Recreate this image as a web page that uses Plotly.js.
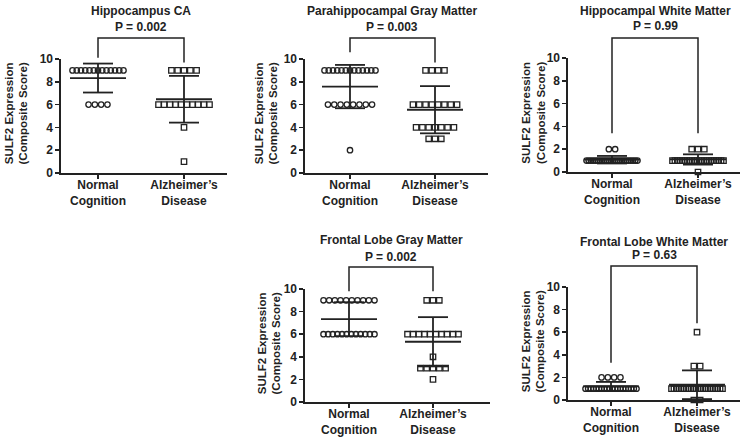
<!DOCTYPE html>
<html><head><meta charset="utf-8">
<script src="https://cdn.plot.ly/plotly-3.0.1.min.js"></script>
<style>html,body{margin:0;padding:0;background:#fff}#chart{width:745px;height:440px}</style>
</head><body><div id="chart"></div>
<script>
// ---------------- DATA ----------------
const categories = ["Normal<br>Cognition", "Alzheimer’s<br>Disease"];
const panelTitles = ["Hippocampus CA", "Parahippocampal Gray Matter", "Hippocampal White Matter", "Frontal Lobe Gray Matter", "Frontal Lobe White Matter"];
const pLabels = ["P = 0.002", "P = 0.003", "P = 0.99", "P = 0.002", "P = 0.63"];
const yTickVals = [0, 2, 4, 6, 8, 10];
const yTitle = "SULF2 Expression<br>(Composite Score)";

const hippoCA_NC = [9,9,9,9,9,9,9,9,9,9,9,9,9, 6,6,6,6];
const hippoCA_AD = [9,9,9,9,9, 6,6,6,6,6,6,6,6,6,6, 4, 1];
const paraGM_NC  = [9,9,9,9,9,9,9,9,9,9,9,9,9, 6,6,6,6,6,6,6,6, 2];
const paraGM_AD  = [9,9,9,9, 6,6,6,6,6,6,6,6, 4,4,4,4,4,4,4, 3,3,3];
const hippoWM_NC = [2,2, 1,1,1,1,1,1,1,1,1,1,1,1,1,1,1,1,1,1,1,1,1,1,1,1];
const hippoWM_AD = [2,2,2, 1,1,1,1,1,1,1,1,1,1,1,1,1,1,1,1,1,1,1,1,1,1, 0];
const frontGM_NC = [9,9,9,9,9,9,9,9,9,9, 6,6,6,6,6,6,6,6,6,6,6,6];
const frontGM_AD = [9,9,9, 6,6,6,6,6,6,6,6,6,6, 4, 3,3,3,3,3, 2];
const frontWM_NC = [2,2,2,2, 1,1,1,1,1,1,1,1,1,1,1,1,1,1,1,1,1,1,1,1];
const frontWM_AD = [6, 3,3, 1,1,1,1,1,1,1,1,1,1,1,1,1,1,1,1,1,1,1,1,1,1, 0,0];

const meanNC = [8.33, 7.58, 1.08, 7.33, 1.20];
const sdNC   = [1.27, 1.90, 0.33, 1.50, 0.40];
const meanAD = [6.47, 5.55, 1.10, 5.33, 1.35];
const sdAD   = [2.05, 2.07, 0.45, 2.18, 1.27];

const groupsNC = [hippoCA_NC, paraGM_NC, hippoWM_NC, frontGM_NC, frontWM_NC];
const groupsAD = [hippoCA_AD, paraGM_AD, hippoWM_AD, frontGM_AD, frontWM_AD];

// ---------------- LAYOUT GEOMETRY (pixels) ----------------
const W = 745, H = 440;
const geom = [
  {x:[61,227],  y:[59,173],  cat:[98,184],  titleY:11,  pY:27,  barY:38,  legs:[10.1,9.7], yt:16.5},
  {x:[305,488], y:[59,173],  cat:[350,435], titleY:11,  pY:27,  barY:38,  legs:[10.6,9.7], yt:266.5},
  {x:[568,740], y:[58,172],  cat:[612,698], titleY:11,  pY:26,  barY:38,  legs:[3.4,3.4],  yt:533},
  {x:[305,490], y:[289,402], cat:[349,433], titleY:240, pY:257, barY:267, legs:[9.8,9.8],  yt:269},
  {x:[568,740], y:[287,400], cat:[611,697], titleY:242, pY:255, barY:266, legs:[3.3,6.8],  yt:533}
];
const FONT = "'Liberation Sans', Arial, Helvetica, sans-serif";
const INK = '#222';
const basePitchPx = 6.3, maxSpanPx = 51, meanHalfPx = 28, capHalfPx = 15;

function px2x(p){ return p / W; }
function px2y(p){ return 1 - p / H; }

function spread(vals, center, unitPx){
  const rows = {};
  vals.forEach(v => { (rows[v] = rows[v] || []).push(v); });
  const xs = [], ys = [];
  Object.keys(rows).forEach(k => {
    const n = rows[k].length;
    const pitch = n > 1 ? Math.min(basePitchPx, maxSpanPx / (n - 1)) : 0;
    for (let i = 0; i < n; i++) {
      xs.push(center + ((i - (n - 1) / 2) * pitch) / unitPx);
      ys.push(Number(k));
    }
  });
  return {xs, ys};
}

const traces = [];
const layout = {
  width: W, height: H,
  margin: {l:0, r:0, t:0, b:0},
  paper_bgcolor: '#fff', plot_bgcolor: '#fff',
  showlegend: false,
  font: {family: FONT, color: INK, size: 12, weight: 'bold'},
  annotations: [], shapes: []
};

geom.forEach((g, i) => {
  const sfx = i === 0 ? '' : String(i + 1);
  const xa = 'x' + sfx, ya = 'y' + sfx;
  const unitPx = g.cat[1] - g.cat[0];
  const r0 = 1 - (g.cat[0] - g.x[0]) / unitPx;
  const r1 = 2 + (g.x[1] - g.cat[1]) / unitPx;

  layout['xaxis' + sfx] = {
    domain: [px2x(g.x[0]), px2x(g.x[1])], anchor: ya, range: [r0, r1],
    tickvals: [1, 2], ticktext: categories, ticks: 'outside', ticklen: 4, tickwidth: 1.5, tickcolor: INK,
    ticklabelstandoff: -4,
    showline: true, linecolor: INK, linewidth: 1.6, showgrid: false, zeroline: false,
    tickfont: {family: FONT, size: 12, color: INK, weight: 'bold'}, fixedrange: true
  };
  layout['yaxis' + sfx] = {
    domain: [px2y(g.y[1]), px2y(g.y[0])], anchor: xa, range: [0, 10],
    tickvals: yTickVals, ticks: 'outside', ticklen: 4, tickwidth: 1.5, tickcolor: INK,
    showline: true, linecolor: INK, linewidth: 1.6, showgrid: false, zeroline: false,
    tickfont: {family: FONT, size: 12, color: INK, weight: 'bold'}, fixedrange: true
  };

  const groups = [groupsNC[i], groupsAD[i]];
  const means = [meanNC[i], meanAD[i]];
  const sds = [sdNC[i], sdAD[i]];
  const symbols = ['circle-open', 'square-open'];

  groups.forEach((vals, gi) => {
    const s = spread(vals, gi + 1, unitPx);
    traces.push({
      type: 'scatter', mode: 'markers', x: s.xs, y: s.ys, xaxis: xa, yaxis: ya,
      cliponaxis: false, hoverinfo: 'skip',
      marker: {symbol: symbols[gi], size: 5.4, color: INK, line: {color: INK, width: 1.3}}
    });
  });

  // mean and SD lines
  const lx = [], ly = [];
  means.forEach((m, gi) => {
    const c = gi + 1, sd = sds[gi];
    const mh = meanHalfPx / unitPx, ch = capHalfPx / unitPx;
    lx.push(c - mh, c + mh, null, c, c, null, c - ch, c + ch, null, c - ch, c + ch, null);
    ly.push(m, m, null, m - sd, m + sd, null, m + sd, m + sd, null, m - sd, m - sd, null);
  });
  traces.push({
    type: 'scatter', mode: 'lines', x: lx, y: ly, xaxis: xa, yaxis: ya,
    cliponaxis: false, hoverinfo: 'skip', line: {color: INK, width: 1.8}
  });

  // significance bracket
  const vpx = v => g.y[1] - v / 10 * (g.y[1] - g.y[0]);
  const x1 = px2x(g.cat[0]), x2 = px2x(g.cat[1]);
  layout.shapes.push({
    type: 'path', xref: 'paper', yref: 'paper',
    path: `M ${x1} ${px2y(vpx(g.legs[0]))} L ${x1} ${px2y(g.barY)} L ${x2} ${px2y(g.barY)} L ${x2} ${px2y(vpx(g.legs[1]))}`,
    line: {color: INK, width: 1.5}
  });

  const cx = px2x((g.cat[0] + g.cat[1]) / 2);
  layout.annotations.push(
    {text: panelTitles[i], x: cx, y: px2y(g.titleY), xref: 'paper', yref: 'paper', xanchor: 'center', yanchor: 'middle',
     showarrow: false, font: {family: FONT, size: 12, color: INK, weight: 'bold'}},
    {text: pLabels[i], x: cx, y: px2y(g.pY), xref: 'paper', yref: 'paper', xanchor: 'center', yanchor: 'middle',
     showarrow: false, font: {family: FONT, size: 12, color: INK, weight: 'bold'}},
    {text: yTitle, x: px2x(g.yt), y: px2y((g.y[0] + g.y[1]) / 2 - 2), xref: 'paper', yref: 'paper', xanchor: 'center', yanchor: 'middle',
     textangle: -90, showarrow: false, font: {family: FONT, size: 11.5, color: INK, weight: 'bold'}}
  );
});

Plotly.newPlot('chart', traces, layout, {staticPlot: true, displayModeBar: false});
</script>
</body></html>
